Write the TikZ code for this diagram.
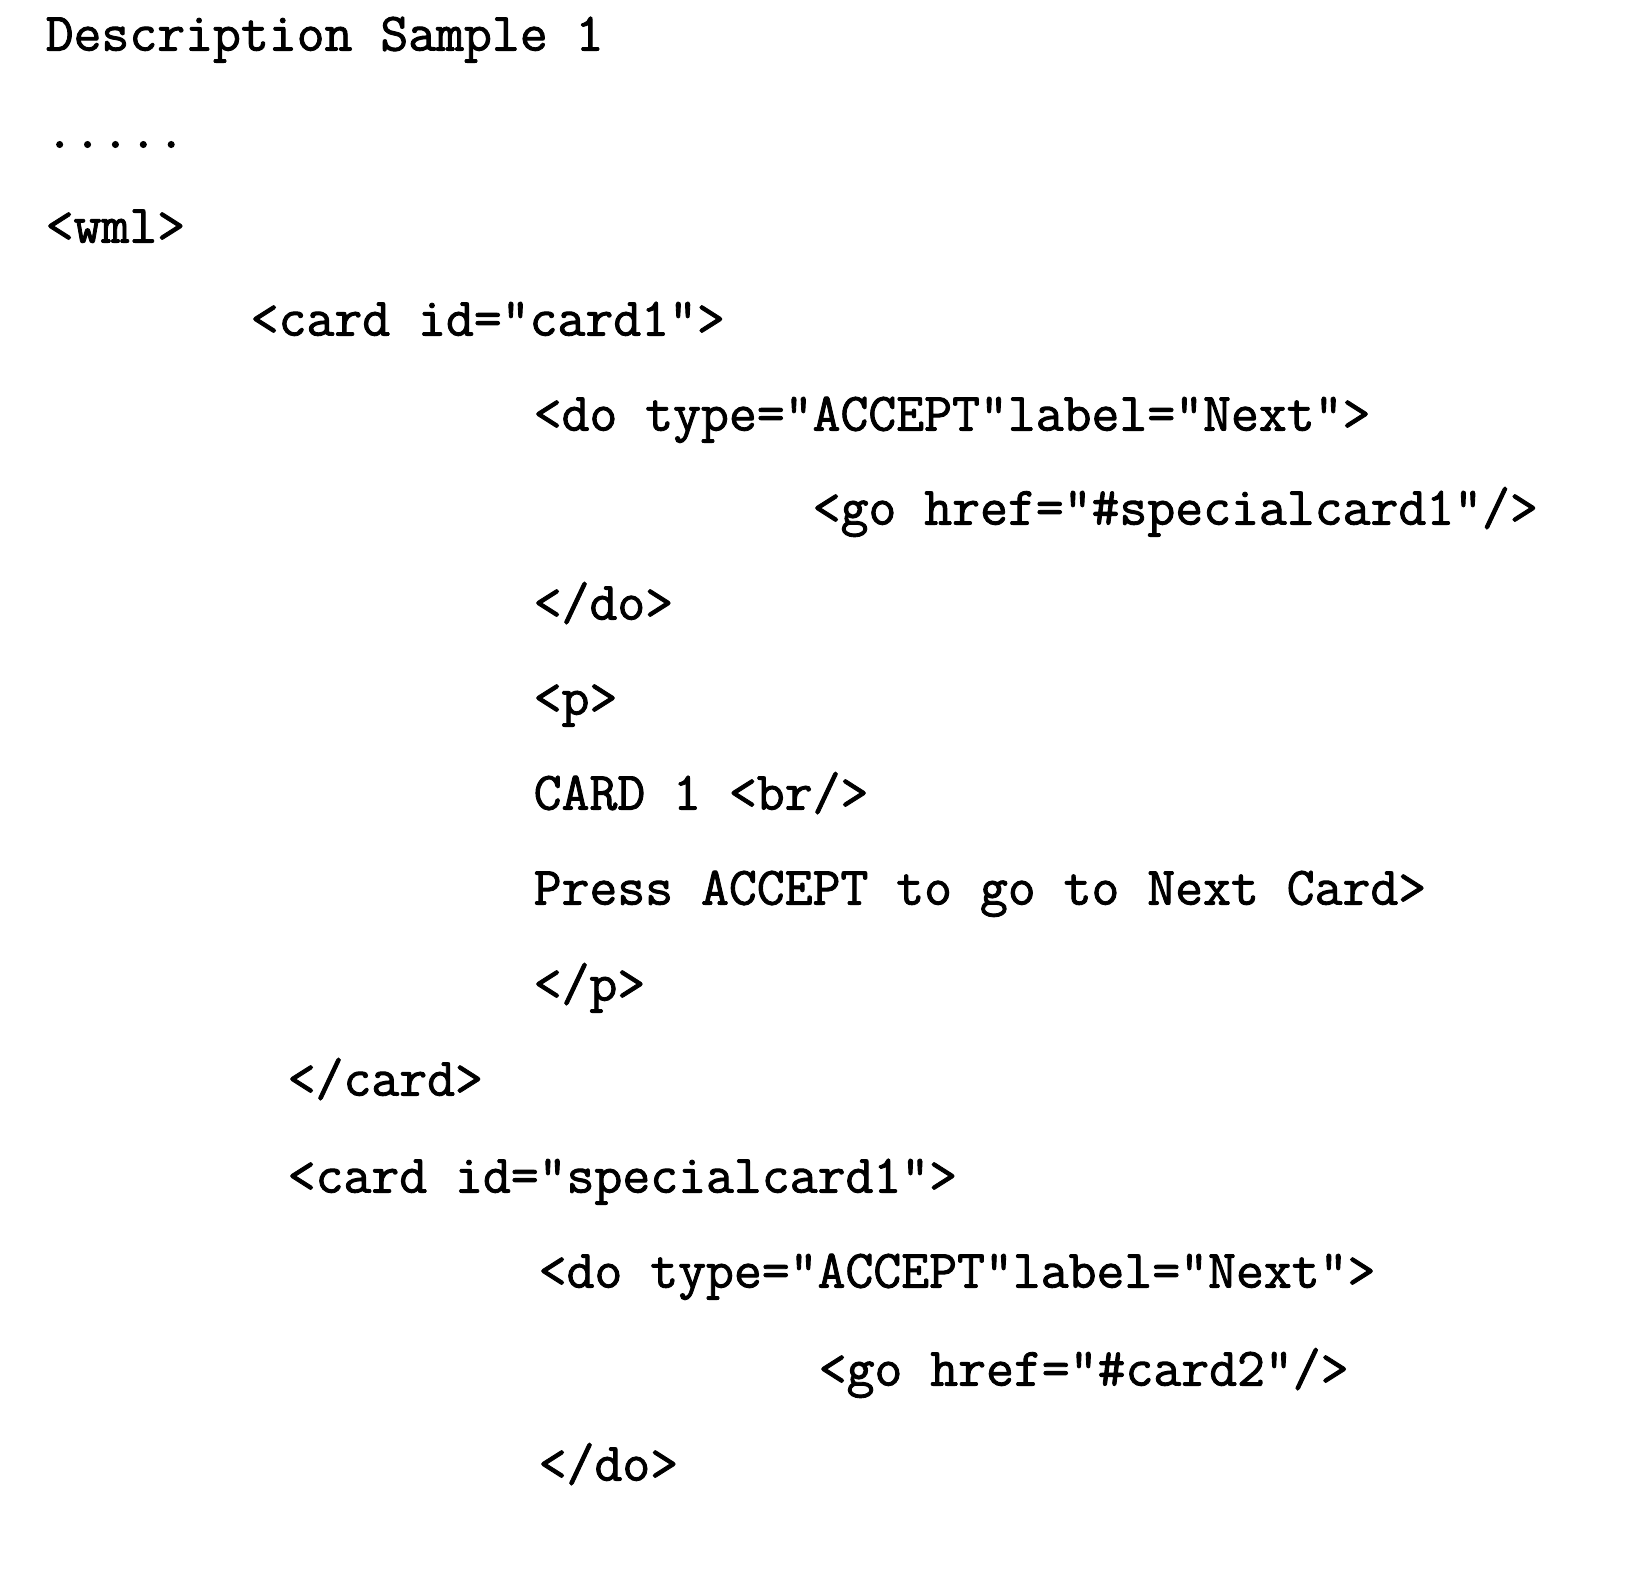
\documentclass[tikz,border=0pt]{standalone}
\usepackage{fontspec}
\setmonofont[FakeBold=1.6]{Latin Modern Mono}
\usepackage{tikz}
\usetikzlibrary{positioning}

\tikzset{
  codeline/.style={anchor=mid west, inner sep=0pt, font=\ttfamily\fontsize{15.4}{18}\selectfont}
}

\begin{document}
\begin{tikzpicture}[x=0.01cm, y=-0.01cm]
        \useasboundingbox (0,0) rectangle (1648,1588);
        % heading
        \node[codeline] (title) at (45,43) {Description Sample 1};
        \node[codeline] (dots) at (45,140) {.....};
        \node[codeline] (wml) at (45,235) {<wml>};
        % first card
        \node[codeline] (cardA) at (250,328) {<card id="card1">};
        \node[codeline] (doA) at (533,423) {<do type="ACCEPT"label="Next">};
        \node[codeline] (goA) at (812,517) {<go href="\#specialcard1"/>};
        \node[codeline] (enddoA) at (533,612) {</do>};
        \node[codeline] (para) at (533,707) {<p>};
        \node[codeline] (cardtxt) at (533,802) {CARD 1 <br/>};
        \node[codeline] (press) at (533,897) {Press ACCEPT to go to Next Card>};
        \node[codeline] (endpara) at (533,993) {</p>};
        \node[codeline] (endcardA) at (287,1088) {</card>};
        % special card
        \node[codeline] (cardB) at (287,1185) {<card id="specialcard1">};
        \node[codeline] (doB) at (538,1280) {<do type="ACCEPT"label="Next">};
        \node[codeline] (goB) at (818,1378) {<go href="\#card2"/>};
        \node[codeline] (enddoB) at (538,1473) {</do>};
\end{tikzpicture}
\end{document}
